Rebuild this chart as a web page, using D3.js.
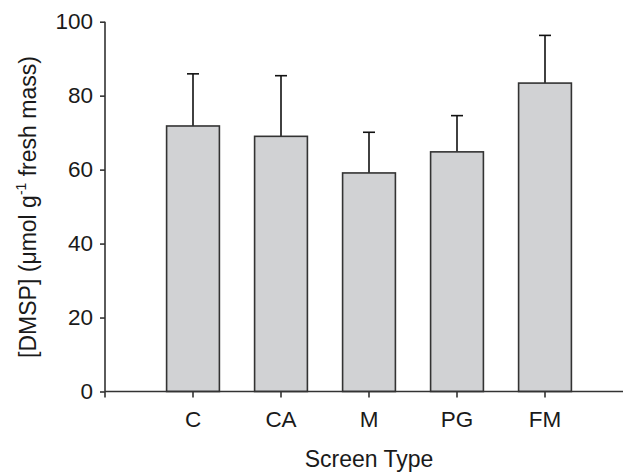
<!DOCTYPE html>
<html>
<head>
<meta charset="utf-8">
<script src="https://cdn.jsdelivr.net/npm/d3@7"></script>
<style>
  body { margin: 0; background: #fff; }
  text { font-family: "Liberation Sans", Arial, sans-serif; fill: #1a1a1a; }
</style>
</head>
<body>
<svg width="624" height="473"></svg>
<script>
// screen types and DMSP means (+ upper error)
var categories = ["C", "CA", "M", "PG", "FM"];
var means = [71.8, 69.0, 59.1, 64.8, 83.4];
var errTops = [85.9, 85.4, 70.1, 74.6, 96.3];
var yTicks = [0, 20, 40, 60, 80, 100];

var svg = d3.select("svg"),
    plotLeft = 105, plotRight = 623, plotTop = 21.7, plotBottom = 391.5;

var x = d3.scaleBand()
    .domain(categories)
    .range([149, 589])
    .paddingInner(0.4)
    .paddingOuter(0.2);

var y = d3.scaleLinear().domain([0, 100]).range([plotBottom, plotTop]);

var data = categories.map(function(c, i) {
    return { name: c, mean: means[i], err: errTops[i] };
});

// error bars (behind bars)
var eb = svg.append("g").attr("stroke", "#111").attr("stroke-width", 1.6);
eb.selectAll(".stem").data(data).enter().append("line")
    .attr("x1", function(d) { return x(d.name) + x.bandwidth() / 2; })
    .attr("x2", function(d) { return x(d.name) + x.bandwidth() / 2; })
    .attr("y1", function(d) { return y(d.mean); })
    .attr("y2", function(d) { return y(d.err); });
eb.selectAll(".cap").data(data).enter().append("line")
    .attr("x1", function(d) { return x(d.name) + x.bandwidth() / 2 - 6; })
    .attr("x2", function(d) { return x(d.name) + x.bandwidth() / 2 + 6; })
    .attr("y1", function(d) { return y(d.err); })
    .attr("y2", function(d) { return y(d.err); });

svg.append("g").selectAll("rect").data(data).enter().append("rect")
    .attr("x", function(d) { return x(d.name); })
    .attr("width", x.bandwidth())
    .attr("y", function(d) { return y(d.mean); })
    .attr("height", function(d) { return y(0) - y(d.mean); })
    .attr("fill", "#d1d2d4")
    .attr("stroke", "#333")
    .attr("stroke-width", 1.6);

// y axis
var yAxis = svg.append("g")
    .attr("transform", "translate(" + plotLeft + ",0)")
    .call(d3.axisLeft(y).tickValues(yTicks).tickSize(5).tickPadding(7));
yAxis.select(".domain").remove();
yAxis.append("line").attr("x1", 0).attr("x2", 0).attr("y1", plotTop).attr("y2", plotBottom)
    .attr("stroke", "#333").attr("stroke-width", 1.6);
yAxis.selectAll(".tick line").attr("stroke", "#333").attr("stroke-width", 1.6);
yAxis.selectAll(".tick text").attr("font-size", 22.5).attr("fill", "#1a1a1a")
    .attr("font-family", "Liberation Sans, Arial, sans-serif");

// x axis
var xAxis = svg.append("g")
    .attr("transform", "translate(0," + plotBottom + ")")
    .call(d3.axisBottom(x).tickSize(6).tickPadding(14));
xAxis.select(".domain").remove();
xAxis.append("line").attr("x1", plotLeft).attr("x2", plotRight).attr("y1", 0).attr("y2", 0)
    .attr("stroke", "#333").attr("stroke-width", 1.6);
xAxis.append("line").attr("x1", plotLeft).attr("x2", plotLeft).attr("y1", 0).attr("y2", 6)
    .attr("stroke", "#333").attr("stroke-width", 1.6);
xAxis.selectAll(".tick line").attr("stroke", "#333").attr("stroke-width", 1.6);
xAxis.selectAll(".tick text").attr("font-size", 22.5).attr("fill", "#1a1a1a")
    .attr("font-family", "Liberation Sans, Arial, sans-serif");

svg.append("text")
    .attr("x", 369).attr("y", 467)
    .attr("text-anchor", "middle")
    .attr("font-size", 23)
    .text("Screen Type");

var yt = svg.append("text")
    .attr("transform", "translate(36,207) rotate(-90)")
    .attr("text-anchor", "middle")
    .attr("font-size", 23);
yt.append("tspan").text("[DMSP] (\u03bcmol g");
yt.append("tspan").attr("font-size", 14).attr("dy", -10).text("-1");
yt.append("tspan").attr("dy", 10).text(" fresh mass)");
</script>
</body>
</html>
